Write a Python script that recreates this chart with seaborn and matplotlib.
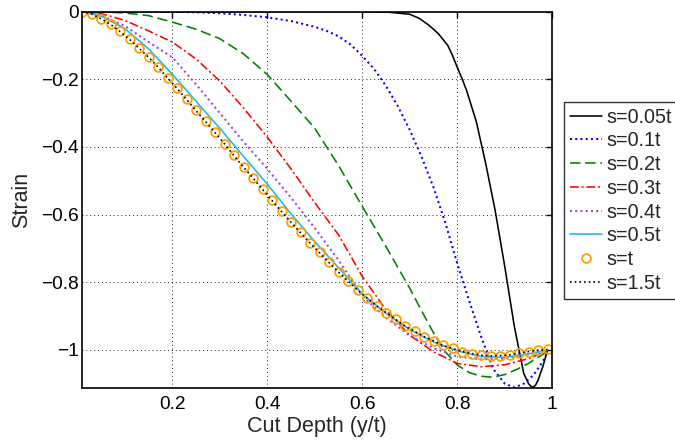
import matplotlib
matplotlib.use("Agg")
import matplotlib.pyplot as plt
import numpy as np
import pandas as pd
import seaborn as sns
from matplotlib.ticker import FixedLocator, FixedFormatter

sns.set_theme(style="white")
plt.rcParams["font.family"] = ["Liberation Sans", "DejaVu Sans"]

# ---- strain vs. normalised cut depth, one series per gauge spacing s ----
s005_x = [0.01, 0.1, 0.2, 0.3, 0.4, 0.5, 0.6, 0.65, 0.7, 0.72, 0.74, 0.76, 0.78,
          0.79, 0.8, 0.81, 0.82, 0.84, 0.86, 0.88, 0.9, 0.92, 0.94, 0.95, 0.955,
          0.96, 0.965, 0.97, 0.98, 0.99]
s005_y = [0.0, 0.0, 0.0, 0.0, 0.0, 0.0, 0.0, -0.001, -0.008, -0.02, -0.04, -0.065,
          -0.10, -0.13, -0.165, -0.198, -0.235, -0.325, -0.45, -0.59, -0.754, -0.93,
          -1.07, -1.10, -1.108, -1.11, -1.104, -1.09, -1.05, -1.0]

s01_x = [0.01, 0.1, 0.2, 0.25, 0.3, 0.35, 0.4, 0.45, 0.5, 0.525, 0.55, 0.575, 0.6,
         0.625, 0.65, 0.675, 0.7, 0.725, 0.75, 0.775, 0.8, 0.825, 0.85, 0.875, 0.9,
         0.92, 0.94, 0.96, 0.98, 0.99]
s01_y = [0.0, 0.0, -0.001, -0.002, -0.005, -0.01, -0.017, -0.028, -0.045, -0.057,
         -0.073, -0.097, -0.131, -0.17, -0.22, -0.28, -0.35, -0.43, -0.52, -0.625,
         -0.745, -0.855, -0.96, -1.055, -1.10, -1.111, -1.10, -1.075, -1.035, -1.006]

s02_x = [0.01, 0.05, 0.1, 0.15, 0.2, 0.25, 0.3, 0.35, 0.4, 0.45, 0.5, 0.55, 0.6,
         0.65, 0.7, 0.725, 0.75, 0.775, 0.8, 0.825, 0.85, 0.875, 0.9, 0.925, 0.95,
         0.975, 0.99]
s02_y = [0.0, -0.001, -0.004, -0.012, -0.031, -0.052, -0.08, -0.125, -0.186, -0.265,
         -0.345, -0.455, -0.576, -0.695, -0.818, -0.885, -0.95, -1.006, -1.045,
         -1.067, -1.078, -1.081, -1.073, -1.058, -1.04, -1.018, -1.004]

s03_x = [0.01, 0.05, 0.1, 0.15, 0.2, 0.25, 0.3, 0.35, 0.4, 0.45, 0.5, 0.55, 0.6,
         0.65, 0.7, 0.75, 0.8, 0.85, 0.9, 0.95, 0.99]
s03_y = [0.0, -0.006, -0.026, -0.057, -0.09, -0.14, -0.205, -0.285, -0.371, -0.465,
         -0.565, -0.66, -0.783, -0.882, -0.957, -1.006, -1.04, -1.05, -1.044, -1.026,
         -1.002]

s04_x = [0.01, 0.05, 0.1, 0.15, 0.2, 0.25, 0.3, 0.35, 0.4, 0.45, 0.5, 0.55, 0.6,
         0.65, 0.7, 0.75, 0.8, 0.85, 0.9, 0.95, 0.99]
s04_y = [0.0, -0.012, -0.042, -0.09, -0.135, -0.215, -0.3, -0.385, -0.465, -0.55,
         -0.64, -0.735, -0.84, -0.905, -0.958, -0.995, -1.02, -1.028, -1.025, -1.012,
         -1.001]

s05_x = [0.01, 0.05, 0.1, 0.15, 0.2, 0.25, 0.3, 0.35, 0.4, 0.45, 0.5, 0.55, 0.6,
         0.65, 0.7, 0.75, 0.8, 0.85, 0.9, 0.95, 0.99]
s05_y = [0.0, -0.013, -0.05, -0.11, -0.185, -0.265, -0.345, -0.428, -0.51, -0.598,
         -0.68, -0.757, -0.835, -0.892, -0.94, -0.977, -1.003, -1.02, -1.022, -1.012,
         -1.001]

s1_x = [0.01, 0.03, 0.05, 0.07, 0.09, 0.11, 0.13, 0.15, 0.17, 0.19, 0.21, 0.23,
        0.25, 0.27, 0.29, 0.31, 0.33, 0.35, 0.37, 0.39, 0.41, 0.43, 0.45, 0.47,
        0.49, 0.51, 0.53, 0.55, 0.57, 0.59, 0.61, 0.63, 0.65, 0.67, 0.69, 0.71,
        0.73, 0.75, 0.77, 0.79, 0.81, 0.83, 0.85, 0.87, 0.89, 0.91, 0.93, 0.95,
        0.97, 0.99]
s1_y = [0.0, -0.007, -0.021, -0.037, -0.058, -0.081, -0.107, -0.134, -0.163, -0.195,
        -0.226, -0.259, -0.292, -0.324, -0.357, -0.39, -0.425, -0.459, -0.491,
        -0.525, -0.558, -0.59, -0.622, -0.653, -0.683, -0.712, -0.741, -0.769,
        -0.796, -0.822, -0.847, -0.87, -0.89, -0.91, -0.93, -0.945, -0.961, -0.973,
        -0.987, -0.996, -1.005, -1.011, -1.016, -1.018, -1.017, -1.015, -1.01,
        -1.005, -1.001, -0.999]

s15_x = [0.01, 0.03, 0.05, 0.07, 0.09, 0.11, 0.13, 0.15, 0.17, 0.19, 0.21, 0.23,
         0.25, 0.27, 0.29, 0.31, 0.33, 0.35, 0.37, 0.39, 0.41, 0.43, 0.45, 0.47,
         0.49, 0.51, 0.53, 0.55, 0.57, 0.59, 0.61, 0.63, 0.65, 0.67, 0.69, 0.71,
         0.73, 0.75, 0.77, 0.79, 0.81, 0.83, 0.85, 0.87, 0.89, 0.91, 0.93, 0.95,
         0.97, 0.99]
s15_y = [0.0, -0.007, -0.021, -0.038, -0.059, -0.082, -0.108, -0.135, -0.164, -0.196,
         -0.227, -0.26, -0.293, -0.325, -0.358, -0.391, -0.426, -0.46, -0.492,
         -0.526, -0.559, -0.591, -0.623, -0.654, -0.684, -0.713, -0.742, -0.77,
         -0.797, -0.823, -0.847, -0.87, -0.89, -0.91, -0.93, -0.945, -0.961, -0.973,
         -0.987, -0.996, -1.005, -1.011, -1.016, -1.018, -1.017, -1.015, -1.01,
         -1.005, -1.001, -0.999]

labels = ["s=0.05t", "s=0.1t", "s=0.2t", "s=0.3t", "s=0.4t", "s=0.5t", "s=t", "s=1.5t"]

x_ticks = [0.2, 0.4, 0.6, 0.8, 1.0]
x_ticklabels = ["0.2", "0.4", "0.6", "0.8", "1"]
y_ticks = [-1.0, -0.8, -0.6, -0.4, -0.2, 0.0]
y_ticklabels = ["\u22121", "\u22120.8", "\u22120.6", "\u22120.4", "\u22120.2", "0"]

fig = plt.figure(figsize=(6.75, 4.42), dpi=100)
fig.patch.set_facecolor("white")
ax = fig.add_axes([0.1215, 0.1228, 0.6967, 0.851])
ax.set_facecolor("white")

line_specs = [
    (s005_x, s005_y, labels[0], "black", "-", 1.15),
    (s01_x, s01_y, labels[1], "#0000FF", (0, (1.0, 1.6)), 1.45),
    (s02_x, s02_y, labels[2], "#008000", (0, (6.5, 3.0)), 1.15),
    (s03_x, s03_y, labels[3], "#FF0000", (0, (5.5, 1.8, 1.2, 1.8)), 1.15),
    (s04_x, s04_y, labels[4], "#9A3FF0", (0, (1.0, 1.6)), 1.45),
    (s05_x, s05_y, labels[5], "#17B8F0", "-", 1.15),
]

for xs, ys, lab, col, ls, lw in line_specs:
    df = pd.DataFrame({"depth": xs, "strain": ys})
    sns.lineplot(data=df, x="depth", y="strain", ax=ax, color=col, linestyle=ls,
                 linewidth=lw, label=lab, errorbar=None, sort=False)

df_t = pd.DataFrame({"depth": s1_x, "strain": s1_y})
sns.lineplot(data=df_t, x="depth", y="strain", ax=ax, color="#FF9E00", linestyle="none",
             marker="o", markersize=6.3, markerfacecolor="none",
             markeredgecolor="#FF9E00", markeredgewidth=1.3, label=labels[6],
             errorbar=None, sort=False)

df_15 = pd.DataFrame({"depth": s15_x, "strain": s15_y})
sns.lineplot(data=df_15, x="depth", y="strain", ax=ax, color="black",
             linestyle=(0, (1.0, 1.8)), linewidth=1.2, label=labels[7],
             errorbar=None, sort=False)

ax.set_xlim(0.01, 1.0)
ax.set_ylim(-1.112, 0.0)
ax.xaxis.set_major_locator(FixedLocator(x_ticks))
ax.xaxis.set_major_formatter(FixedFormatter(x_ticklabels))
ax.yaxis.set_major_locator(FixedLocator(y_ticks))
ax.yaxis.set_major_formatter(FixedFormatter(y_ticklabels))

ax.grid(True, color="#222222", linestyle=(0, (1, 3)), linewidth=0.7)
for sp in ax.spines.values():
    sp.set_visible(True)
    sp.set_color("black")
    sp.set_linewidth(1.2)
ax.tick_params(direction="in", top=True, right=True, length=4.5, width=1.0,
               labelsize=13.8, colors="black")
ax.tick_params(axis="x", pad=6)
ax.tick_params(axis="y", pad=2.5)

ax.set_xlabel("Cut Depth (y/t)", fontsize=15.5, labelpad=2)
ax.set_ylabel("Strain", fontsize=15.5, labelpad=6)

leg = ax.legend(loc="upper left", bbox_to_anchor=(0.8356, 0.770),
                bbox_transform=fig.transFigure, frameon=True, fancybox=False,
                fontsize=14.2, handlelength=1.6, handletextpad=0.25,
                labelspacing=0.24, borderpad=0.3, borderaxespad=0.0)
leg.get_frame().set_edgecolor("black")
leg.get_frame().set_linewidth(1.0)

fig.savefig("out.png", dpi=100, facecolor="white")
